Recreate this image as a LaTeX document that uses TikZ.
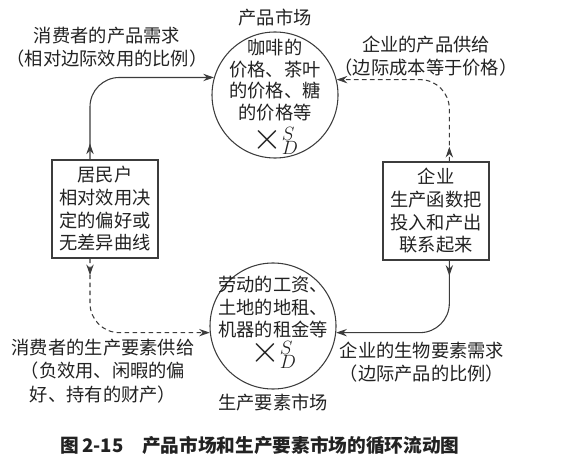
\documentclass[tikz,border=0pt]{standalone}
\usepackage{fontspec}
\setmainfont{Noto Sans CJK SC}
\usetikzlibrary{arrows.meta, positioning, decorations.markings}
\definecolor{ink}{HTML}{222222}
\definecolor{wire}{HTML}{3C3C3C}
\tikzset{
  market/.style={circle, draw=wire, line width=0.8pt, minimum size=94.5pt,
                 inner sep=0pt},
  inside/.style={align=center, inner sep=0pt, text=ink, anchor=north,
                 font=\fontsize{13.7pt}{16.1pt}\selectfont},
  agent/.style={rectangle, draw=wire, line width=0.8pt, minimum width=79.5pt,
                minimum height=73.5pt, inner sep=0pt, align=center, text=ink,
                font=\fontsize{13.7pt}{17pt}\selectfont},
  note/.style={align=center, inner sep=0pt, text=ink,
               font=\fontsize{13.7pt}{17.5pt}\selectfont},
  caption/.style={inner sep=0pt, text=ink, font=\fontsize{14pt}{16pt}\selectfont\bfseries},
  flow/.style={-{Stealth[length=8pt, width=5.5pt]}, draw=wire, line width=0.8pt,
               rounded corners=22pt},
  gap/.style={dash pattern=on 3.5pt off 2.5pt},
  midtip/.style={postaction=decorate,
                 decoration={markings, mark=at position #1 with
                             {\arrow{Stealth[length=8pt, width=5.5pt]}}}},
}
% big times sign with S over D
\newcommand{\sdmark}{\raisebox{0pt}[10pt][6pt]{\fontsize{15pt}{15pt}\selectfont
  \scalebox{2}{$\times$}\rlap{\raisebox{6.15pt}{$S$}}\raisebox{-4.35pt}{$D$}}}

\begin{document}
\begin{tikzpicture}[x=0.75pt, y=-0.75pt]
  \useasboundingbox (0,0) rectangle (577,463);

  % ---- the two markets ----
  \node[market] (goods) at (275,95) {};
  \node[inside] (goodstext) at ([yshift=42pt]goods.center)
    {咖啡的\\价格、茶叶\\的价格、糖\\的价格等\\[6.4pt]\sdmark};
  \node[market] (factors) at (273,326) {};
  \node[inside] (factorstext) at ([yshift=37.5pt]factors.center)
    {劳动的工资、\\[0.8pt]土地的地租、\\[0.8pt]机器的租金等\\[3pt]\sdmark};
  \node[note, above=4pt of goods] (goodsname) {产品市场};
  \node[note, below=3pt of factors] (factorsname) {生产要素市场};

  % ---- households and firms ----
  \node[agent] (house) at (105,209)
    {居民户\\相对效用决\\定的偏好或\\无差异曲线};
  \node[agent] (firm) at (436,211)
    {企业\\生产函数把\\投入和产出\\联系起来};

  % flow labels
  \node[note] (demand) at (107,47)
    {消费者的产品需求\\（相对边际效用的比例）};
  \node[note] (supply) at (426,56)
    {企业的产品供给\\（边际成本等于价格）};
  \node[note] (laborsupply) at (103,371)
    {消费者的生产要素供给\\（负效用、闲暇的偏\\好、持有的财产）};
  \node[note] (factordemand) at (422,362)
    {企业的生物要素需求\\（边际产品的比例）};

  \node[caption] (title) at (260,445)
    {图\,2-15\quad 产品市场和生产要素市场的循环流动图};

  \draw[flow, midtip=12pt] ([xshift=-11.25pt]house.north) |- (goods.164);
  \draw[flow, gap, midtip=11pt] ([xshift=10pt]firm.north) |- (goods.14);
  \draw[flow, gap, midtip=12.5pt] ([xshift=-11.25pt]house.south) |- (factors.186);
  \draw[flow, midtip=11.5pt] ([xshift=10pt]firm.south) |- (factors.354);
\end{tikzpicture}
\end{document}
